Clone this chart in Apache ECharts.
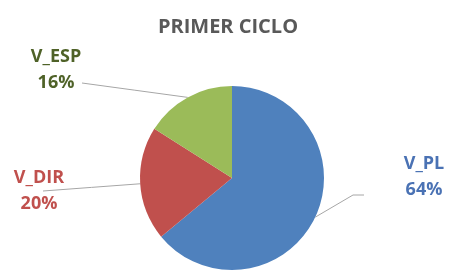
<!DOCTYPE html>
<html>
<head>
<meta charset="utf-8">
<script src="https://cdn.jsdelivr.net/npm/echarts@6/dist/echarts.min.js"></script>
<style>
  html, body { margin: 0; padding: 0; background: #fff; }
  #chart { width: 456px; height: 270px; }
</style>
</head>
<body>
<div id="chart"></div>
<script>
const titleText = 'PRIMER CICLO'
const categories = ['V_PL', 'V_DIR', 'V_ESP']
const shares = [64, 20, 16]
const sliceColors = ['#4F81BD', '#C0504D', '#9BBB59']
const labelColors = ['#4A72B4', '#C0504D', '#4F6228']

// label block centres and where the leader line stops, relative to that centre
const labelSpots = [[424, 177], [39, 191], [56, 70]]
const lineEnds = [[-60, 18], [4, 0], [26, 13]]

const mycharts = echarts.init(document.getElementById('chart'))
mycharts.setOption({
  animation: false,
  title: {
    text: titleText,
    left: 'center',
    top: 12,
    textStyle: { color: '#595959', fontSize: 20, fontWeight: 'bold', fontFamily: 'Open Sans' }
  },
  series: [
    {
      type: 'pie',
      center: [232, 178],
      radius: 92,
      startAngle: 90,
      clockwise: true,
      data: categories.map((name, i) => ({
        name,
        value: shares[i],
        itemStyle: { color: sliceColors[i] },
        label: { color: labelColors[i] }
      })),
      label: {
        show: true,
        formatter: '{b}\n{d}%',
        fontFamily: 'Open Sans',
        fontWeight: 'bold',
        fontSize: 18,
        lineHeight: 26,
        align: 'center'
      },
      labelLine: {
        show: true,
        length: 20,
        length2: 12,
        lineStyle: { color: '#a6a6a6', width: 1 }
      },
      labelLayout: (params) => {
        const i = params.dataIndex
        const p = labelSpots[i]
        const start = params.labelLinePoints[0]
        const end = [p[0] + lineEnds[i][0], p[1] + lineEnds[i][1]]
        // the right-hand line has a short flat tail
        const pts = i === 0
          ? [start, [end[0] - 11, end[1]], end]
          : [start, [(start[0] + end[0]) / 2, (start[1] + end[1]) / 2], end]
        return {
          x: p[0],
          y: p[1],
          align: 'center',
          verticalAlign: 'middle',
          labelLinePoints: pts
        }
      }
    }
  ]
})
</script>
</body>
</html>
